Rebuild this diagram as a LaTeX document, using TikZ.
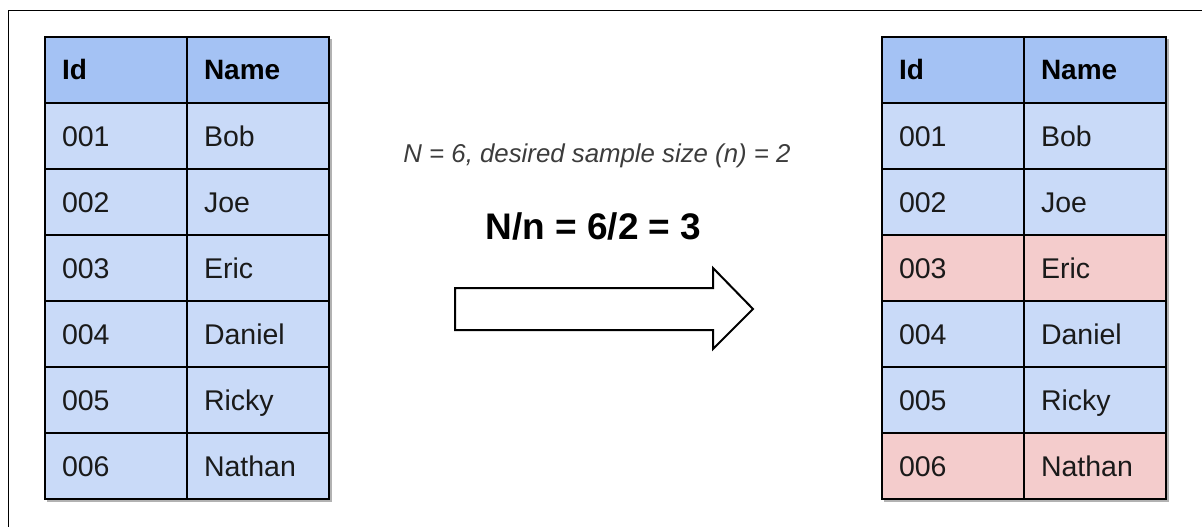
\documentclass[tikz,border=0pt]{standalone}
\usepackage{fontspec}
\setmainfont{Liberation Sans}
\definecolor{hdrblue}{HTML}{A4C2F4}
\definecolor{rowblue}{HTML}{C9DAF8}
\definecolor{rowred}{HTML}{F4CCCC}
\definecolor{notegray}{HTML}{3C3C3C}
\definecolor{celltext}{HTML}{1A1A1A}
\tikzset{
  cell/.style={draw=black, line width=2.6pt, minimum width=142pt, minimum height=66pt,
    text width=108pt, inner xsep=17pt, inner ysep=0pt, align=left, anchor=north west,
    text height=20pt, text depth=0pt, outer sep=0pt, text=celltext,
    font=\fontsize{28.5}{30}\selectfont},
  hcell/.style={cell, fill=hdrblue, text=black, font=\fontsize{28}{30}\selectfont\bfseries},
  tshadow/.style={fill=black!30},
  frame/.style={draw=black, line width=1.4pt},
  blockarrow/.style={draw=black, line width=2pt, fill=white, line join=miter}
}
\begin{document}
\begin{tikzpicture}[x=1pt,y=-1pt]
\useasboundingbox (0,0) rectangle (1202,527);
% outer frame (only top and left edges visible)
\draw[frame] (8.5,527) -- (8.5,10.5) -- (1202,10.5);
% shadows
\fill[tshadow] (47,39) rectangle (331.5,501.5);
\fill[tshadow] (884,39) rectangle (1168.5,501.5);
% left table
\node[hcell] (L-0-1) at (45,37) {Id};
\node[hcell] (L-0-2) at (187,37) {Name};
\foreach \i/\id/\nm in {1/001/Bob,2/002/Joe,3/003/Eric,4/004/Daniel,5/005/Ricky,6/006/Nathan}{
  \node[cell, fill=rowblue] (L-\i-1) at (45,{37+66*\i}) {\id};
  \node[cell, fill=rowblue] (L-\i-2) at (187,{37+66*\i}) {\nm};
}
% right table
\node[hcell] (R-0-1) at (882,37) {Id};
\node[hcell] (R-0-2) at (1024,37) {Name};
\foreach \i/\id/\nm/\c in {1/001/Bob/rowblue,2/002/Joe/rowblue,3/003/Eric/rowred,4/004/Daniel/rowblue,5/005/Ricky/rowblue,6/006/Nathan/rowred}{
  \node[cell, fill=\c] (R-\i-1) at (882,{37+66*\i}) {\id};
  \node[cell, fill=\c] (R-\i-2) at (1024,{37+66*\i}) {\nm};
}
% texts
\node[anchor=base, inner sep=0pt, text=notegray, font=\fontsize{25.8}{27}\selectfont\itshape] (note) at (597,162) {N = 6, desired sample size (n) = 2};
\node[anchor=base, inner sep=0pt, font=\fontsize{37}{40}\selectfont\bfseries] (formula) at (593.5,239) {N/n = 6/2 = 3};
% block arrow
\draw[blockarrow] (455,288) -- (713,288) -- (713,268) -- (753,309) -- (713,349) -- (713,330) -- (455,330) -- cycle;
\end{tikzpicture}
\end{document}
